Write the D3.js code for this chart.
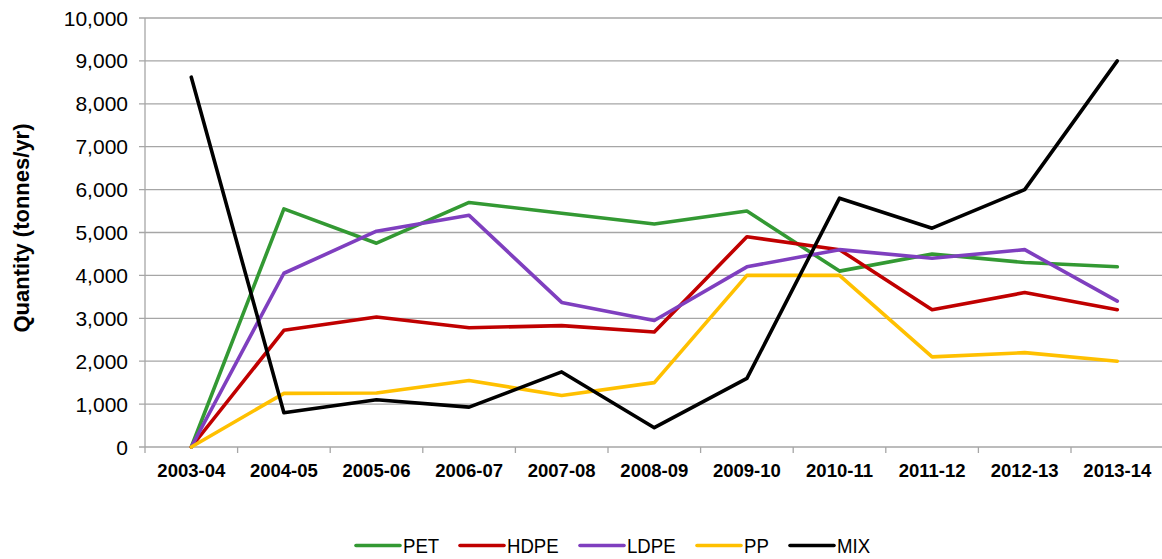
<!DOCTYPE html>
<html><head><meta charset="utf-8">
<script src="https://cdn.jsdelivr.net/npm/d3@7"></script>
<style>body{margin:0;background:#fff}svg{display:block}text{font-family:"Liberation Sans",Arial,sans-serif}</style>
</head><body><svg id="c" width="1162" height="559"></svg>
<script>
const categories = ["2003-04","2004-05","2005-06","2006-07","2007-08","2008-09","2009-10","2010-11","2011-12","2012-13","2013-14"];
const PET  = [0,5550,4750,5700,5450,5200,5500,4100,4500,4300,4200];
const HDPE = [0,2720,3030,2780,2830,2680,4900,4600,3200,3600,3200];
const LDPE = [0,4050,5030,5400,3370,2950,4200,4600,4400,4600,3400];
const PP   = [0,1250,1260,1550,1200,1500,4000,4000,2100,2200,2000];
const MIX  = [8620,800,1100,930,1750,450,1600,5800,5100,6000,9000];
const seriesNames = ["PET","HDPE","LDPE","PP","MIX"];
const seriesColors = ["#339933","#C00000","#7F3FBF","#FFC000","#000000"];
const yTicks = [0,1000,2000,3000,4000,5000,6000,7000,8000,9000,10000];
const series = [PET,HDPE,LDPE,PP,MIX];

(function(){
const svg = d3.select("#c");
const pL = 145, pR = 1163.6, pT = 18, pB = 447;
const x = d3.scaleBand().domain(categories).range([pL,pR]);
const y = d3.scaleLinear().domain([0,10000]).range([pB,pT]);

// gridlines
svg.append("g").selectAll("line").data(yTicks).join("line")
  .attr("x1",pL-6).attr("x2",pR).attr("y1",d=>y(d)).attr("y2",d=>y(d))
  .attr("stroke","#a6a6a6").attr("stroke-width",1.3);
// y axis line
svg.append("line").attr("x1",pL).attr("x2",pL).attr("y1",pT).attr("y2",pB+6)
  .attr("stroke","#a6a6a6").attr("stroke-width",1.3);
// x tick marks at band boundaries
const bounds = categories.map(c=>x(c)).concat([pR]);
svg.append("g").selectAll("line").data(bounds.slice(1)).join("line")
  .attr("x1",d=>d).attr("x2",d=>d).attr("y1",pB).attr("y2",pB+6)
  .attr("stroke","#a6a6a6").attr("stroke-width",1.3);

// y tick labels
const fmt = d3.format(",");
svg.append("g").selectAll("text").data(yTicks).join("text")
  .attr("x",pL-17).attr("y",d=>y(d)).attr("dy","0.36em")
  .attr("text-anchor","end").attr("font-size",21).attr("fill","#000")
  .text(d=>fmt(d));
// x labels
svg.append("g").selectAll("text").data(categories).join("text")
  .attr("x",d=>x(d)+x.bandwidth()/2).attr("y",477)
  .attr("text-anchor","middle").attr("font-size",18.5).attr("font-weight","bold")
  .text(d=>d);
// y title
svg.append("text").attr("transform","translate(29,228) rotate(-90)")
  .attr("text-anchor","middle").attr("font-size",22).attr("font-weight","bold")
  .text("Quantity (tonnes/yr)");

// lines
const line = d3.line().x((d,i)=>x(categories[i])+x.bandwidth()/2).y(d=>y(d));
series.forEach((s,k)=>{
  svg.append("path").datum(s).attr("d",line).attr("fill","none")
    .attr("stroke",seriesColors[k]).attr("stroke-width",3.6)
    .attr("stroke-linejoin","round").attr("stroke-linecap","round");
});

// legend
const legX = [356,460,580,697,790];
const lg = svg.append("g");
seriesNames.forEach((n,k)=>{
  lg.append("line").attr("x1",legX[k]).attr("x2",legX[k]+44).attr("y1",545.5).attr("y2",545.5)
    .attr("stroke",seriesColors[k]).attr("stroke-width",3.6).attr("stroke-linecap","round");
  lg.append("text").attr("transform",`translate(${legX[k]+47},545.5) scale(0.93,1)`).attr("dy","0.36em")
    .attr("font-size",20).text(n);
});
})();
</script></body></html>
